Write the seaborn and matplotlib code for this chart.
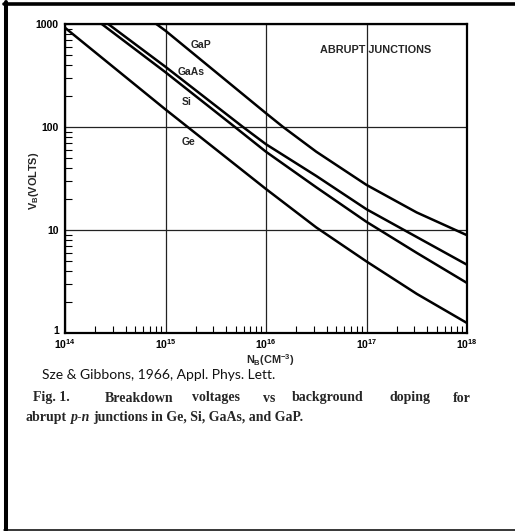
import numpy as np
import pandas as pd
import matplotlib
matplotlib.use("Agg")
import matplotlib.pyplot as plt
import seaborn as sns
from matplotlib.lines import Line2D
from matplotlib.ticker import LogLocator, NullFormatter
from matplotlib.transforms import ScaledTranslation

# ---------------- data ----------------
materials = ["Ge", "Si", "GaAs", "GaP"]

ge_N = [1e14, 1e15, 1e16, 3.16e16, 1e17, 3.16e17, 1e18]
ge_V = [920, 148, 25, 10.6, 4.95, 2.4, 1.25]

si_N = [2.32e14, 1e15, 4.9e15, 1e16, 3.16e16, 1e17, 3.16e17, 1e18]
si_V = [1000, 340, 100, 57.5, 26, 12.0, 6.0, 3.06]

gaas_N = [2.69e14, 1e15, 5.9e15, 1e16, 3.16e16, 1e17, 3.16e17, 1e18]
gaas_V = [1000, 384, 100, 68, 33.5, 15.9, 8.55, 4.6]

gap_N = [8.1e14, 1e15, 1e16, 1.48e16, 3.16e16, 1e17, 3.16e17, 1e18]
gap_V = [1000, 860, 136, 100, 57.6, 27.4, 14.8, 8.9]

x_ticks = [1e14, 1e15, 1e16, 1e17, 1e18]
x_tick_labels = [r"$\mathrm{10^{14}}$", r"$\mathrm{10^{15}}$", r"$\mathrm{10^{16}}$",
                 r"$\mathrm{10^{17}}$", r"$\mathrm{10^{18}}$"]
y_ticks = [1, 10, 100, 1000]
y_tick_labels = ["1", "10", "100", "1000"]

curve_labels = ["GaP", "GaAs", "Si", "Ge"]
label_x = [2.24e15, 1.78e15, 1.62e15, 1.70e15]
label_y = [631, 339, 174, 72]

title_text = "ABRUPT JUNCTIONS"
x_label = r"$\mathrm{N_B}$(CM$^{\mathrm{-3}}$)"
y_label = r"$\mathrm{V_B}$(VOLTS)"
source_text = "Sze & Gibbons, 1966, Appl. Phys. Lett."
caption_line1 = ["Fig. 1.", "Breakdown", "voltages", "vs", "background", "doping", "for"]
caption_line2 = ["abrupt", "p-n", "junctions in Ge, Si, GaAs, and GaP."]

# ---------------- style ----------------
sns.set_theme(style="white")
plt.rcParams.update({
    "font.family": ["Liberation Sans", "DejaVu Sans"],
    "font.weight": "bold",
    "mathtext.fontset": "custom",
    "mathtext.rm": "Liberation Sans:bold",
    "mathtext.bf": "Liberation Sans:bold",
    "mathtext.it": "Liberation Sans:bold:italic",
    "mathtext.sf": "Liberation Sans:bold",
})

W, H = 515, 531
fig = plt.figure(figsize=(W / 100, H / 100), dpi=100)
fig.patch.set_facecolor("white")
ax = fig.add_axes([65 / W, 1 - 333 / H, 402 / W, 309 / H])
ax.set_xscale("log")
ax.set_yscale("log")

frames = []
for m, N, V in zip(materials, [ge_N, si_N, gaas_N, gap_N], [ge_V, si_V, gaas_V, gap_V]):
    frames.append(pd.DataFrame({"N": N, "V": V, "material": m}))
df = pd.concat(frames, ignore_index=True)

sns.lineplot(data=df, x="N", y="V", hue="material", units="material",
             palette={m: "black" for m in materials}, estimator=None,
             sort=False, legend=False, linewidth=1.8, ax=ax)

ax.set_xlim(1e14, 1e18)
ax.set_ylim(1, 1000)
ax.set_xticks(x_ticks)
ax.set_xticklabels(x_tick_labels)
ax.set_yticks(y_ticks)
ax.set_yticklabels(y_tick_labels)
ax.xaxis.set_minor_locator(LogLocator(base=10, subs=range(2, 10), numticks=20))
ax.yaxis.set_minor_locator(LogLocator(base=10, subs=range(2, 10), numticks=20))
ax.xaxis.set_minor_formatter(NullFormatter())
ax.yaxis.set_minor_formatter(NullFormatter())
ax.tick_params(which="major", length=0, labelsize=7.5, colors="black",
               left=True, bottom=True)
ax.tick_params(axis="x", which="major", pad=3)
ax.tick_params(axis="y", which="major", pad=4.5)
ax.tick_params(which="minor", direction="in", length=5, width=0.8, color="black",
               left=True, bottom=True, top=False, right=False)
# nudge the lowest y label ("1") up a touch so it clears the 10^14 label
ylabs = ax.get_yticklabels()
ylabs[0].set_transform(ylabs[0].get_transform() +
                       ScaledTranslation(0, 2 / 72, fig.dpi_scale_trans))
ax.set_xlabel("")
ax.set_ylabel("")
ax.grid(True, which="major", color="#222222", linewidth=0.9)
ax.grid(False, which="minor")
ax.set_axisbelow(True)
for s in ax.spines.values():
    s.set_visible(True)
    s.set_color("black")
    s.set_linewidth(1.6)

for t, lx, ly in zip(curve_labels, label_x, label_y):
    ax.text(lx, ly, t, ha="center", va="center", fontsize=7.5, fontweight="bold")
ax.text(1.23e17, 562, title_text, ha="center", va="center",
        fontsize=7.8, fontweight="bold")

# axis labels
fig.text(34 / W, 1 - 181 / H, y_label, rotation=90, ha="center", va="center",
         fontsize=7.8, fontweight="bold")
fig.text(270 / W, 1 - 360 / H, x_label, ha="center", va="center",
         fontsize=7.8, fontweight="bold")

# source and caption
fig.text(42 / W, 1 - 375 / H, source_text, ha="left", va="center",
         fontsize=10, family=["Lato", "DejaVu Sans"], fontweight="normal",
         color="#111111")

cap_size = 10
y1 = 1 - 398 / H
x1_positions = [33, 105, 192, 263, 292, 390, 453]
for word, px in zip(caption_line1, x1_positions):
    fig.text(px / W, y1, word, ha="left", va="center", fontsize=cap_size,
             family=["Liberation Serif"], fontweight="bold")

y2 = 1 - 417 / H
renderer = fig.canvas.get_renderer()
t1 = fig.text(26 / W, y2, caption_line2[0], ha="left", va="center", fontsize=cap_size,
              family=["Liberation Serif"], fontweight="bold")
bb = t1.get_window_extent(renderer)
t2 = fig.text((bb.x1 + 3.5) / W, y2, caption_line2[1], ha="left", va="center",
              fontsize=cap_size, family=["Liberation Serif"], fontweight="bold",
              style="italic")
bb = t2.get_window_extent(renderer)
fig.text((bb.x1 + 3.5) / W, y2, caption_line2[2], ha="left", va="center",
         fontsize=cap_size, family=["Liberation Serif"], fontweight="bold")

# outer frame (thick top/left, thin bottom)
fig.add_artist(Line2D([4 / W, 1], [1 - 3.5 / H, 1 - 3.5 / H], color="black",
                      linewidth=2.6, transform=fig.transFigure))
fig.add_artist(Line2D([6 / W, 6 / W], [1 - 2 / H, 1 - 530 / H], color="black",
                      linewidth=2.9, transform=fig.transFigure))
fig.add_artist(Line2D([4 / W, 1], [1 - 529.5 / H, 1 - 529.5 / H], color="black",
                      linewidth=1.1, transform=fig.transFigure))

fig.savefig("out.png", dpi=100)
